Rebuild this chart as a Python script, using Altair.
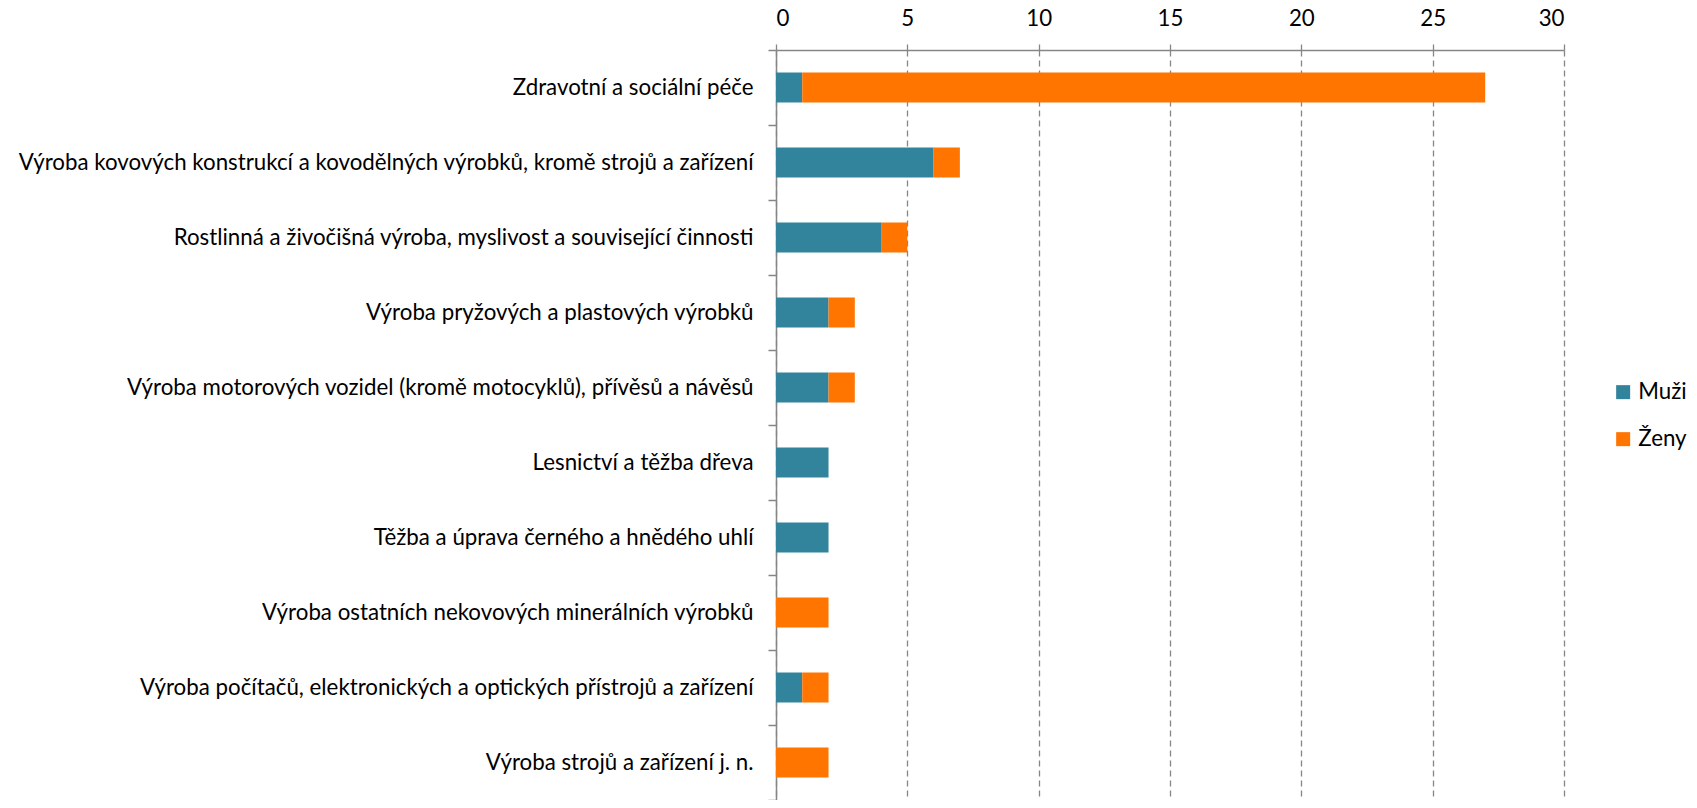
import altair as alt
import pandas as pd

categories = [
    "Zdravotní a sociální péče",
    "Výroba kovových konstrukcí a kovodělných výrobků, kromě strojů a zařízení",
    "Rostlinná a živočišná výroba, myslivost a související činnosti",
    "Výroba pryžových a plastových výrobků",
    "Výroba motorových vozidel (kromě motocyklů), přívěsů a návěsů",
    "Lesnictví a těžba dřeva",
    "Těžba a úprava černého a hnědého uhlí ",
    "Výroba ostatních nekovových minerálních výrobků",
    "Výroba počítačů, elektronických a optických přístrojů a zařízení",
    "Výroba strojů a zařízení j. n.",
]
muzi = [1, 6, 4, 2, 2, 2, 2, 0, 1, 0]
zeny = [26, 1, 1, 1, 1, 0, 0, 2, 1, 2]
series = ["Muži", "Ženy"]
colors = ["#31849B", "#FF7500"]

rows = []
for c, m, z in zip(categories, muzi, zeny):
    rows.append({"cat": c, "pohlavi": "Muži", "val": m, "ord": 0})
    rows.append({"cat": c, "pohlavi": "Ženy", "val": z, "ord": 1})
df = pd.DataFrame(rows)

FONT = "Lato"
FS = 22.3
GRAY = "#868686"

chart = alt.Chart(df).mark_bar(size=30).encode(
    y=alt.Y("cat:N", sort=categories, title=None,
            scale=alt.Scale(paddingInner=0, paddingOuter=0),
            axis=alt.Axis(tickBand="extent", tickSize=8, tickColor=GRAY, tickWidth=1.5,
                          domainColor=GRAY, domainWidth=1.5, labelPadding=15,
                          labelFont=FONT, labelFontSize=FS, labelColor="#000000",
                          labelLimit=900, grid=False)),
    x=alt.X("val:Q", stack="zero", title=None,
            scale=alt.Scale(domain=[0, 30], nice=False),
            axis=alt.Axis(orient="top", values=[0, 5, 10, 15, 20, 25, 30],
                          tickSize=8, tickColor=GRAY, tickDash=[6, 4], tickWidth=1.3,
                          domainColor=GRAY, domainWidth=1.5, labelPadding=12,
                          labelFont=FONT, labelFontSize=FS, labelColor="#000000",
                          grid=True, gridColor=GRAY, gridDash=[6, 4], gridWidth=1.3)),
    color=alt.Color("pohlavi:N", scale=alt.Scale(domain=series, range=colors), title=None,
                    legend=alt.Legend(orient="none", legendX=836, legendY=331,
                                      padding=0,
                                      symbolType="square", symbolSize=196,
                                      symbolStrokeWidth=0, rowPadding=24,
                                      labelFont=FONT, labelFontSize=FS, labelColor="#000000",
                                      labelOffset=4)),
    order=alt.Order("ord:Q"),
).properties(
    width=788, height=750,
    autosize=alt.AutoSizeParams(type="none"),
    padding={"left": 768, "top": 42, "right": 125, "bottom": 0},
).configure_view(stroke=None)

chart.save("out.html", embed_options={"renderer": "svg", "actions": False})
